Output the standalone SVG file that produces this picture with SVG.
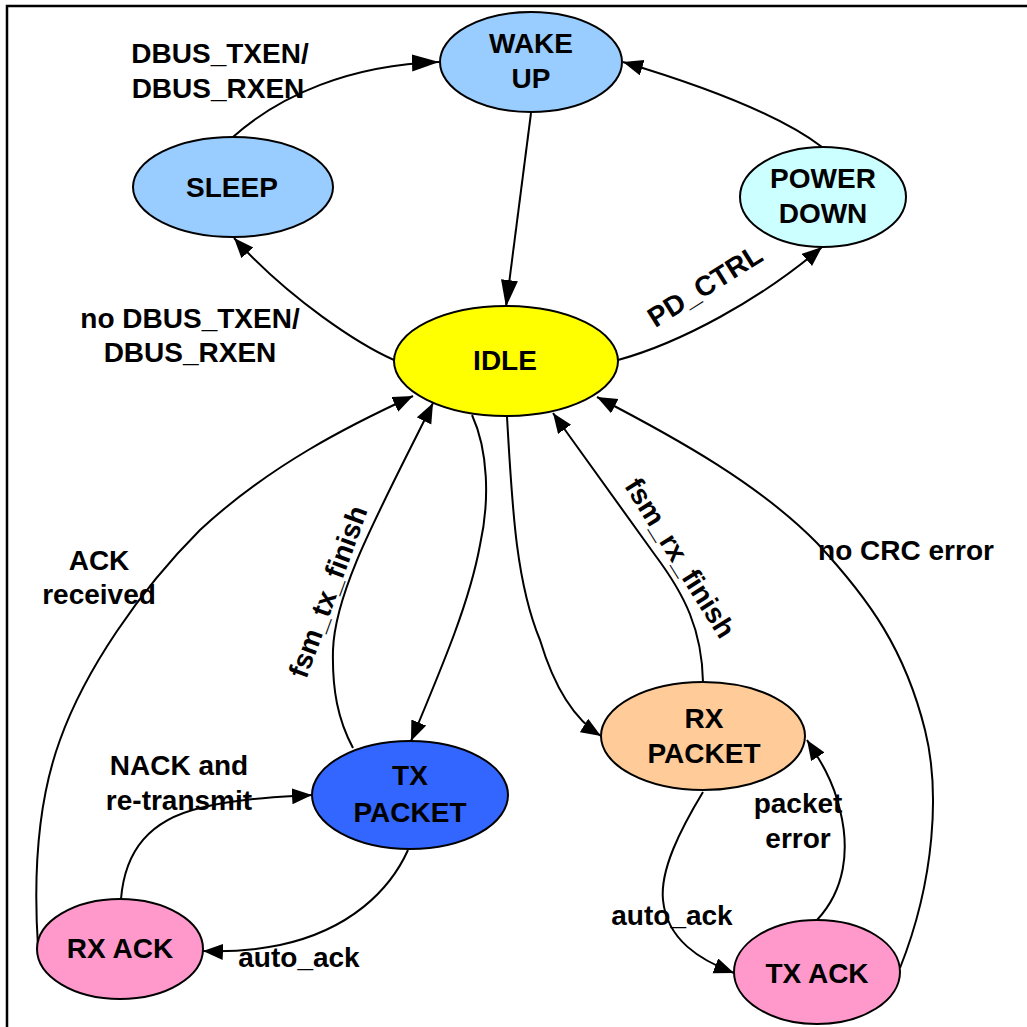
<svg xmlns="http://www.w3.org/2000/svg" width="1027" height="1027" viewBox="0 0 1027 1027">
<style>
.node ellipse{stroke:#000;stroke-width:2}
text{font-family:"Liberation Sans",Arial,sans-serif;font-weight:bold;font-size:28px;fill:#000;text-anchor:middle}
.edge{fill:none;stroke:#000;stroke-width:2}
</style>
<defs>
<marker id="arr" markerUnits="userSpaceOnUse" markerWidth="21" markerHeight="17" refX="20" refY="8" orient="auto" viewBox="0 0 21 17">
<path d="M0,0 L20,8 L0,16 z" fill="#000"/>
</marker>
<marker id="arrL" markerUnits="userSpaceOnUse" markerWidth="28" markerHeight="18" refX="27" refY="8.5" orient="auto" viewBox="0 0 28 18">
<path d="M0,0 L27,8.5 L0,17 z" fill="#000"/>
</marker>
</defs>
<rect width="1027" height="1027" fill="#fff"/>
<path d="M7,1027 V6 H1027" fill="none" stroke="#000" stroke-width="2.5"/>
<g id="connectors">
<path class="edge" d="M233,137 C280,95 350,65 439,62" marker-end="url(#arrL)"/>
<path class="edge" d="M531,113 L506,307" marker-end="url(#arrL)"/>
<path class="edge" d="M822,147 C780,115 700,85 623,62" marker-end="url(#arr)"/>
<path class="edge" d="M394,360 C360,345 290,300 234,238" marker-end="url(#arr)"/>
<path class="edge" d="M618,360 C680,343 760,300 822,247" marker-end="url(#arr)"/>
<path class="edge" d="M38,947 C33,870 38,800 60,740 C85,670 140,590 200,530 C270,465 350,425 413,396" marker-end="url(#arr)"/>
<path class="edge" d="M353,748 C338,720 332,690 333,650 C335,590 380,510 433,403" marker-end="url(#arr)"/>
<path class="edge" d="M472,415 C488,450 490,500 480,545 C470,600 445,660 411,741" marker-end="url(#arr)"/>
<path class="edge" d="M507,417 C512,500 515,580 540,640 C555,690 575,720 601,736" marker-end="url(#arr)"/>
<path class="edge" d="M703,682 C702,630 685,595 655,555 C630,520 590,465 553,413" marker-end="url(#arr)"/>
<path class="edge" d="M900,968 C935,880 940,790 925,730 C905,650 870,600 817,543 C760,485 680,440 597,397" marker-end="url(#arr)"/>
<path class="edge" d="M817,920 C845,890 850,850 840,810 C833,780 820,760 807,740" marker-end="url(#arr)"/>
<path class="edge" d="M703,792 C680,830 660,870 663,900 C667,940 700,960 734,973" marker-end="url(#arr)"/>
<path class="edge" d="M408,850 C390,890 350,930 280,945 C250,951 225,952 203,951" marker-end="url(#arr)"/>
<path class="edge" d="M121,899 C125,850 150,820 200,808 C240,798 280,797 312,795" marker-end="url(#arr)"/>
</g>
<g id="edge-labels">
<text x="220" y="63">DBUS_TXEN/</text>
<text x="218" y="98">DBUS_RXEN</text>
<text x="190" y="328">no DBUS_TXEN/</text>
<text x="190" y="362">DBUS_RXEN</text>
<text transform="translate(710,294) rotate(-32)" x="0" y="0">PD_CTRL</text>
<text x="99" y="570">ACK</text>
<text x="99" y="604">received</text>
<text transform="translate(337,595) rotate(-70)" x="0" y="0">fsm_tx_finish</text>
<text transform="translate(672,563) rotate(58)" x="0" y="0">fsm_rx_finish</text>
<text x="906" y="560">no CRC error</text>
<text x="179" y="775">NACK and</text>
<text x="179" y="810">re-transmit</text>
<text x="299" y="967">auto_ack</text>
<text x="672" y="925">auto_ack</text>
<text x="798" y="813">packet</text>
<text x="798" y="848">error</text>
</g>
<g id="node-wakeup" class="node"><ellipse cx="531" cy="62" rx="91" ry="50" fill="#99CCFF"/><text x="531" y="53">WAKE</text><text x="531" y="88">UP</text></g>
<g id="node-sleep" class="node"><ellipse cx="233" cy="187" rx="100" ry="50" fill="#99CCFF"/><text x="232" y="197">SLEEP</text></g>
<g id="node-powerdown" class="node"><ellipse cx="823" cy="197" rx="83" ry="50" fill="#CCFFFF"/><text x="823" y="188">POWER</text><text x="823" y="223">DOWN</text></g>
<g id="node-idle" class="node"><ellipse cx="506" cy="361" rx="112" ry="55" fill="#FFFF00"/><text x="505" y="370">IDLE</text></g>
<g id="node-txpacket" class="node"><ellipse cx="410" cy="795" rx="98" ry="54" fill="#3366FF"/><text x="410" y="785">TX</text><text x="410" y="822">PACKET</text></g>
<g id="node-rxpacket" class="node"><ellipse cx="703" cy="736" rx="102" ry="54" fill="#FFCC99"/><text x="704" y="728">RX</text><text x="704" y="763">PACKET</text></g>
<g id="node-rxack" class="node"><ellipse cx="120" cy="949" rx="83" ry="50" fill="#FF99CC"/><text x="120" y="958">RX ACK</text></g>
<g id="node-txack" class="node"><ellipse cx="817" cy="972" rx="83" ry="52" fill="#FF99CC"/><text x="817" y="983">TX ACK</text></g>
</svg>
